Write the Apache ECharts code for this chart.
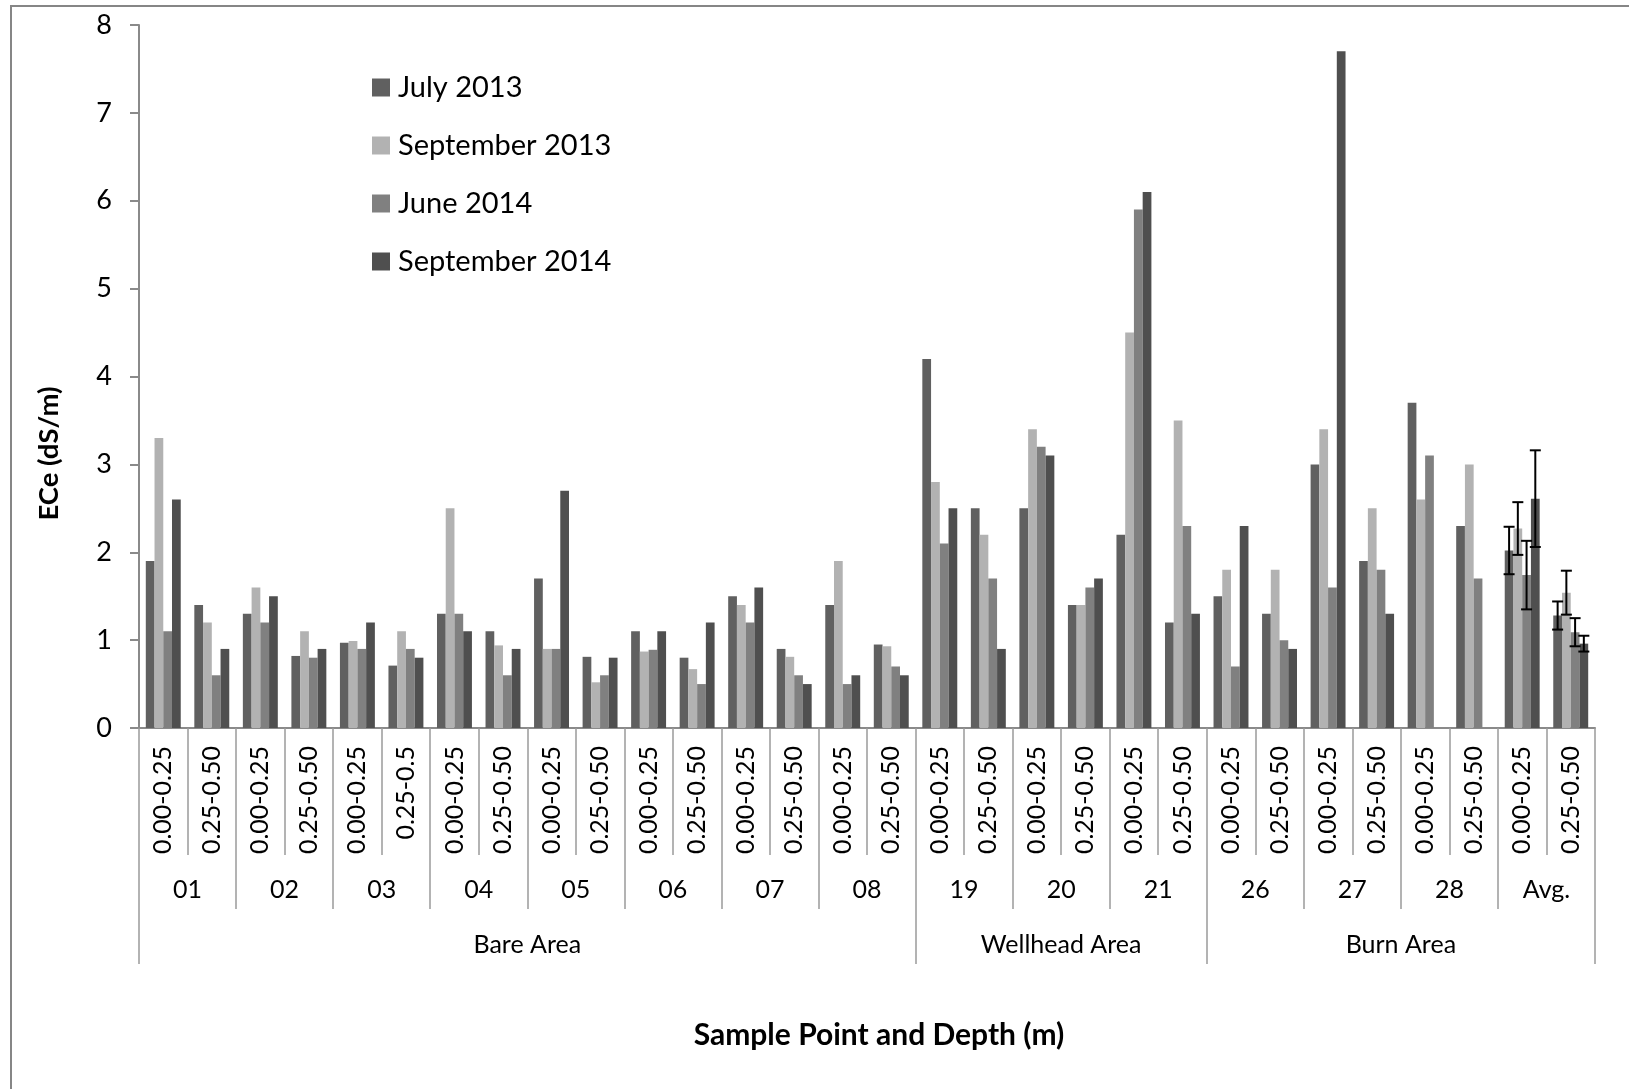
<!DOCTYPE html>
<html>
<head>
<meta charset="utf-8">
<script src="https://cdn.jsdelivr.net/npm/echarts@6/dist/echarts.min.js"></script>
<style>
  html, body { margin: 0; padding: 0; background: #ffffff; }
  #chart { width: 1629px; height: 1089px; }
</style>
</head>
<body>
<div id="chart"></div>
<script>
// Sample points (two depths each) and the areas they belong to
const groups = ['01', '02', '03', '04', '05', '06', '07', '08', '19', '20', '21', '26', '27', '28', 'Avg.'];
const depthLabels = [
  '0.00-0.25', '0.25-0.50', '0.00-0.25', '0.25-0.50', '0.00-0.25', '0.25-0.5',
  '0.00-0.25', '0.25-0.50', '0.00-0.25', '0.25-0.50', '0.00-0.25', '0.25-0.50',
  '0.00-0.25', '0.25-0.50', '0.00-0.25', '0.25-0.50', '0.00-0.25', '0.25-0.50',
  '0.00-0.25', '0.25-0.50', '0.00-0.25', '0.25-0.50', '0.00-0.25', '0.25-0.50',
  '0.00-0.25', '0.25-0.50', '0.00-0.25', '0.25-0.50', '0.00-0.25', '0.25-0.50'
];
const areas = ['Bare Area', 'Wellhead Area', 'Burn Area'];
const areaGroupCounts = [8, 3, 4];

// ECe (dS/m) per sampling campaign
const seriesNames = ['July 2013', 'September 2013', 'June 2014', 'September 2014'];
const july2013 = [1.9, 1.4, 1.3, 0.82, 0.97, 0.71, 1.3, 1.1, 1.7, 0.81, 1.1, 0.8, 1.5, 0.9, 1.4, 0.95,
  4.2, 2.5, 2.5, 1.4, 2.2, 1.2, 1.5, 1.3, 3.0, 1.9, 3.7, 2.3, 2.02, 1.28];
const sep2013 = [3.3, 1.2, 1.6, 1.1, 0.99, 1.1, 2.5, 0.94, 0.9, 0.52, 0.87, 0.67, 1.4, 0.81, 1.9, 0.93,
  2.8, 2.2, 3.4, 1.4, 4.5, 3.5, 1.8, 1.8, 3.4, 2.5, 2.6, 3.0, 2.27, 1.54];
const jun2014 = [1.1, 0.6, 1.2, 0.8, 0.9, 0.9, 1.3, 0.6, 0.9, 0.6, 0.89, 0.5, 1.2, 0.6, 0.5, 0.7,
  2.1, 1.7, 3.2, 1.6, 5.9, 2.3, 0.7, 1.0, 1.6, 1.8, 3.1, 1.7, 1.74, 1.09];
const sep2014 = [2.6, 0.9, 1.5, 0.9, 1.2, 0.8, 1.1, 0.9, 2.7, 0.8, 1.1, 1.2, 1.6, 0.5, 0.6, 0.6,
  2.5, 0.9, 3.1, 1.7, 6.1, 1.3, 2.3, 0.9, 7.7, 1.3, null, null, 2.61, 0.96];

// Error (±) on the averages, for the 0.00-0.25 and 0.25-0.50 depths
const july2013Err = [0.27, 0.16];
const sep2013Err = [0.30, 0.25];
const jun2014Err = [0.39, 0.16];
const sep2014Err = [0.55, 0.09];

const yTicks = [0, 1, 2, 3, 4, 5, 6, 7, 8];

const seriesValues = [july2013, sep2013, jun2014, sep2014];
const seriesErrors = [july2013Err, sep2013Err, jun2014Err, sep2014Err];
const colors = ['#606060', '#b2b2b2', '#808080', '#4f4f4f'];

const FONT = 'Lato, "Open Sans", sans-serif';
const AXIS_GREY = '#8a8a8a';
const CAT_GAP = 0.28;
const nCat = depthLabels.length;
const avgStart = nCat - 2;

// Boundaries / label centres for the group and area rows (in category units)
const groupBounds = groups.map((g, i) => i * 2).concat([groups.length * 2]);
const groupCentres = groups.map((g, i) => i * 2 + 1);
const areaBounds = [0];
areaGroupCounts.forEach(c => areaBounds.push(areaBounds[areaBounds.length - 1] + c * 2));
const areaCentres = areas.map((a, i) => (areaBounds[i] + areaBounds[i + 1]) / 2);

const barSeries = seriesNames.map((name, k) => ({
  name: name,
  type: 'bar',
  xAxisIndex: 0,
  data: seriesValues[k],
  itemStyle: { color: colors[k] },
  barGap: '0%',
  barCategoryGap: (CAT_GAP * 100) + '%',
  emphasis: { disabled: true }
}));

const errorSeries = seriesNames.map((name, k) => ({
  name: name + ' error',
  type: 'custom',
  xAxisIndex: 0,
  z: 5,
  silent: true,
  data: seriesErrors[k].map((e, j) => [avgStart + j, seriesValues[k][avgStart + j], e]),
  renderItem: function (params, api) {
    const idx = api.value(0), val = api.value(1), err = api.value(2);
    const catW = api.size([1, 0])[0];
    const bw = catW * (1 - CAT_GAP) / seriesNames.length;
    const cx = api.coord([idx, val])[0] + (k - (seriesNames.length - 1) / 2) * bw;
    const yTop = api.coord([idx, val + err])[1];
    const yBot = api.coord([idx, val - err])[1];
    const cap = 5.5;
    const st = { stroke: '#000000', lineWidth: 2 };
    return {
      type: 'group',
      children: [
        { type: 'line', shape: { x1: cx, y1: yTop, x2: cx, y2: yBot }, style: st },
        { type: 'line', shape: { x1: cx - cap, y1: yTop, x2: cx + cap, y2: yTop }, style: st },
        { type: 'line', shape: { x1: cx - cap, y1: yBot, x2: cx + cap, y2: yBot }, style: st }
      ]
    };
  }
}));

const chart = echarts.init(document.getElementById('chart'), null, { renderer: 'canvas' });

chart.setOption({
  animation: false,
  backgroundColor: '#ffffff',
  textStyle: { fontFamily: FONT, color: '#000000' },
  graphic: [{
    type: 'rect',
    silent: true,
    z: -10,
    shape: { x: 11, y: 6, width: 1700, height: 1200 },
    style: { fill: 'none', stroke: '#868686', lineWidth: 2 }
  }],
  grid: { left: 139, right: 34, top: 25, bottom: 361, containLabel: false },
  legend: {
    orient: 'vertical',
    left: 367,
    top: 68,
    data: seriesNames,
    icon: 'rect',
    itemWidth: 18,
    itemHeight: 18,
    itemGap: 29,
    selectedMode: false,
    textStyle: { fontFamily: FONT, fontSize: 29, color: '#000000', padding: [0, 0, 0, 3] }
  },
  xAxis: [
    {
      type: 'category',
      data: depthLabels,
      position: 'bottom',
      axisLine: { lineStyle: { color: AXIS_GREY, width: 2 } },
      axisTick: { show: true, length: 127, interval: 0, lineStyle: { color: '#9a9a9a', width: 1.5 } },
      axisLabel: { interval: 0, rotate: 90, margin: 18, fontSize: 25, fontFamily: FONT, color: '#000000' }
    },
    {
      type: 'value',
      position: 'bottom',
      offset: 127,
      min: 0,
      max: nCat,
      axisLine: { show: false },
      splitLine: { show: false },
      axisTick: { show: true, length: 54, customValues: groupBounds, lineStyle: { color: '#9a9a9a', width: 1.5 } },
      axisLabel: {
        customValues: groupCentres,
        margin: 22,
        fontSize: 25,
        fontFamily: FONT,
        color: '#000000',
        formatter: v => groups[Math.round((v - 1) / 2)]
      }
    },
    {
      type: 'value',
      position: 'bottom',
      offset: 181,
      min: 0,
      max: nCat,
      axisLine: { show: false },
      splitLine: { show: false },
      axisTick: { show: true, length: 55, customValues: areaBounds, lineStyle: { color: '#9a9a9a', width: 1.5 } },
      axisLabel: {
        customValues: areaCentres,
        margin: 23,
        fontSize: 25,
        fontFamily: FONT,
        color: '#000000',
        formatter: v => areas[areaCentres.indexOf(v)]
      },
      name: 'Sample Point and Depth (m)',
      nameLocation: 'middle',
      nameGap: 111,
      nameTextStyle: { fontFamily: FONT, fontSize: 30, fontWeight: 'bold', color: '#000000', padding: [0, 0, 0, 24] }
    }
  ],
  yAxis: {
    type: 'value',
    min: yTicks[0],
    max: yTicks[yTicks.length - 1],
    interval: 1,
    axisLine: { show: true, lineStyle: { color: AXIS_GREY, width: 2 } },
    axisTick: { show: true, length: 9, lineStyle: { color: AXIS_GREY, width: 2 } },
    splitLine: { show: false },
    axisLabel: { margin: 27, fontSize: 27, fontFamily: FONT, color: '#000000' },
    name: 'ECe (dS/m)',
    nameLocation: 'middle',
    nameGap: 76,
    nameTextStyle: { fontFamily: FONT, fontSize: 27.5, fontWeight: 'bold', color: '#000000', padding: [0, 154, 0, 0] }
  },
  series: barSeries.concat(errorSeries)
});
</script>
</body>
</html>
